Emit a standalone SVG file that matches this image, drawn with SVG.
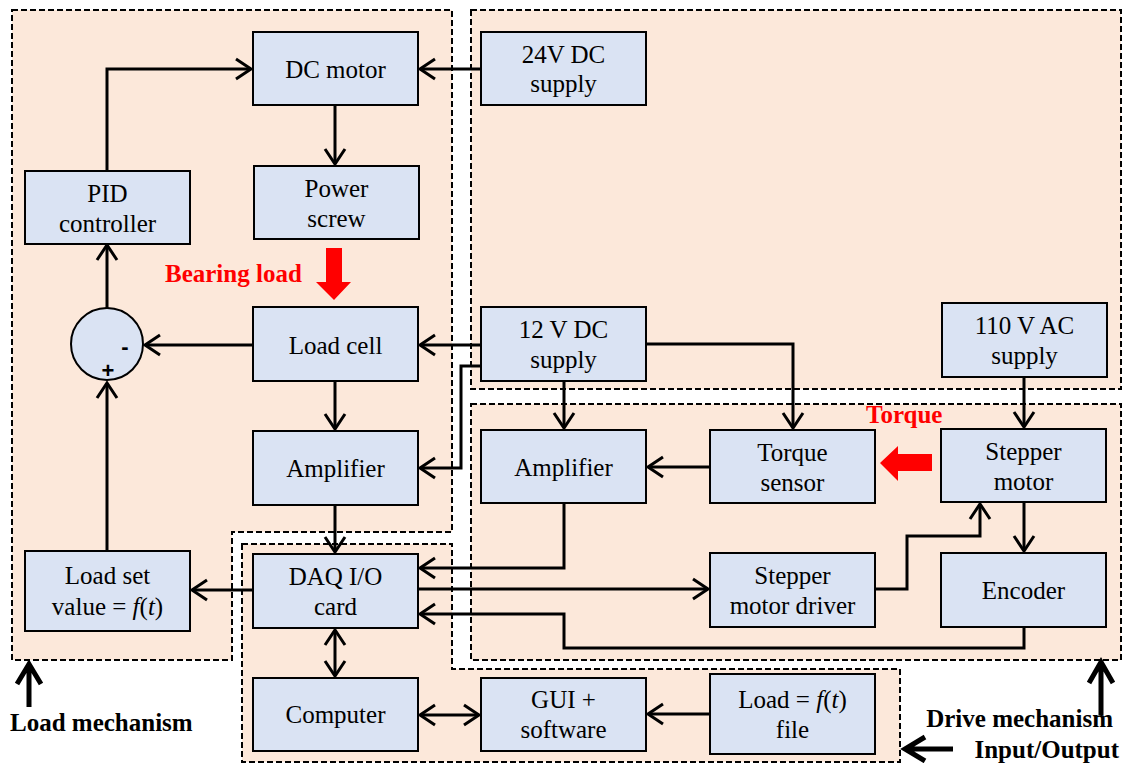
<svg xmlns="http://www.w3.org/2000/svg" width="1123" height="763" viewBox="0 0 1123 763">
<style>
.reg{fill:#FCE8DA;stroke:#000;stroke-width:2;stroke-dasharray:6,3}
.box{fill:#DAE3F3;stroke:#000;stroke-width:2}
.t{font-family:"Liberation Serif","Times New Roman",serif;font-size:25px;text-anchor:middle;fill:#000}
.lbl{font-family:"Liberation Serif","Times New Roman",serif;font-size:25px;font-weight:bold;fill:#000}
.red{fill:#FF0000}
.c{fill:none;stroke:#000;stroke-width:3}
.big{fill:none;stroke:#000;stroke-width:5}
.it{font-style:italic}
</style>
<defs>
<marker id="a" viewBox="-20 -14 24 28" refX="0" refY="0" markerWidth="24" markerHeight="28" markerUnits="userSpaceOnUse" orient="auto-start-reverse">
<path d="M-15,-10 L0,0 L-15,10" fill="none" stroke="#000" stroke-width="3"/>
</marker>
</defs>
<rect width="1123" height="763" fill="#fff"/>
<g id="regions">
<path id="load-mechanism" class="reg" d="M12,10 H452 V532 H232 V660 H12 Z"/>
<rect id="power-region" class="reg" x="471" y="10" width="650" height="379"/>
<rect id="drive-mechanism" class="reg" x="471" y="404" width="650" height="256"/>
<path id="input-output" class="reg" d="M242,544 H452 V669 H900 V762 H242 Z"/>
</g>
<g id="connectors">
<path class="c" d="M107,171 V69 H251" marker-end="url(#a)"/>
<path class="c" d="M481,69 H420" marker-end="url(#a)"/>
<path class="c" d="M335,105 V164" marker-end="url(#a)"/>
<path class="c" d="M253,345 H145" marker-end="url(#a)"/>
<path class="c" d="M481,345 H420" marker-end="url(#a)"/>
<path class="c" d="M481,366 H461 V468 H420" marker-end="url(#a)"/>
<path class="c" d="M646,344 H793 V428" marker-end="url(#a)"/>
<path class="c" d="M564,381 V428" marker-end="url(#a)"/>
<path class="c" d="M1024,377 V427" marker-end="url(#a)"/>
<path class="c" d="M710,467 H648" marker-end="url(#a)"/>
<path class="c" d="M1024,502 V551" marker-end="url(#a)"/>
<path class="c" d="M875,589 H907 V536 H980 V504" marker-end="url(#a)"/>
<path class="c" d="M564,503 V568 H420" marker-end="url(#a)"/>
<path class="c" d="M418,589 H708" marker-end="url(#a)"/>
<path class="c" d="M1024,627 V648 H564 V614 H420" marker-end="url(#a)"/>
<path class="c" d="M335,381 V429" marker-end="url(#a)"/>
<path class="c" d="M335,505 V552" marker-end="url(#a)"/>
<path class="c" d="M107,308 V245" marker-end="url(#a)"/>
<path class="c" d="M107,551 V383" marker-end="url(#a)"/>
<path class="c" d="M253,590 H192" marker-end="url(#a)"/>
<path class="c" d="M335,630 V676" marker-start="url(#a)" marker-end="url(#a)"/>
<path class="c" d="M420,715 H479" marker-start="url(#a)" marker-end="url(#a)"/>
<path class="c" d="M710,714 H648" marker-end="url(#a)"/>
<polygon class="red" points="326,248 342,248 342,282 351,282 334,300 316,282 326,282"/>
<polygon class="red" points="932,454 898,454 898,446 880,463 898,481 898,471 932,471"/>
<path class="big" d="M29,707 V666 M17,684 L29,664 L41,684"/>
<path class="big" d="M1101,715 V664 M1089,683 L1101,662 L1113,683"/>
<path class="big" d="M953,749 H908 M925,737 L905,749 L925,761"/>
</g>
<g id="dc-motor"><rect class="box" x="253" y="32" width="165" height="73"/><text class="t" x="335.5" y="78">DC motor</text></g>
<g id="power-screw"><rect class="box" x="254" y="166" width="165" height="73"/><text class="t" x="336.5" y="197">Power</text><text class="t" x="336.5" y="227">screw</text></g>
<g id="pid-controller"><rect class="box" x="25" y="171" width="165" height="73"/><text class="t" x="107.5" y="202">PID</text><text class="t" x="107.5" y="232">controller</text></g>
<g id="supply-24v"><rect class="box" x="481" y="32" width="165" height="73"/><text class="t" x="563.5" y="63">24V DC</text><text class="t" x="563.5" y="92">supply</text></g>
<g id="supply-12v"><rect class="box" x="481" y="307" width="165" height="74"/><text class="t" x="563.5" y="338">12 V DC</text><text class="t" x="563.5" y="368">supply</text></g>
<g id="supply-110v"><rect class="box" x="942" y="303" width="165" height="74"/><text class="t" x="1024.5" y="334">110 V AC</text><text class="t" x="1024.5" y="364">supply</text></g>
<g id="summing-junction"><circle cx="107" cy="344" r="36" fill="#DAE3F3" stroke="#000" stroke-width="2"/><text x="125" y="354" font-family="Liberation Sans,Arial,sans-serif" font-size="22" font-weight="bold" text-anchor="middle">-</text><text x="108" y="378" font-family="Liberation Sans,Arial,sans-serif" font-size="22" font-weight="bold" text-anchor="middle">+</text></g>
<g id="load-cell"><rect class="box" x="253" y="307" width="165" height="74"/><text class="t" x="335.5" y="354">Load cell</text></g>
<g id="amplifier-left"><rect class="box" x="253" y="431" width="165" height="74"/><text class="t" x="335.5" y="477">Amplifier</text></g>
<g id="amplifier-right"><rect class="box" x="481" y="430" width="165" height="73"/><text class="t" x="563.5" y="476">Amplifier</text></g>
<g id="torque-sensor"><rect class="box" x="710" y="430" width="165" height="73"/><text class="t" x="792.5" y="461">Torque</text><text class="t" x="792.5" y="491">sensor</text></g>
<g id="stepper-motor"><rect class="box" x="941" y="429" width="165" height="73"/><text class="t" x="1023.5" y="460">Stepper</text><text class="t" x="1023.5" y="490">motor</text></g>
<g id="stepper-driver"><rect class="box" x="710" y="553" width="165" height="74"/><text class="t" x="792.5" y="584">Stepper</text><text class="t" x="792.5" y="614">motor driver</text></g>
<g id="encoder"><rect class="box" x="941" y="553" width="165" height="74"/><text class="t" x="1023.5" y="599">Encoder</text></g>
<g id="load-set-value"><rect class="box" x="25" y="551" width="165" height="80"/><text class="t" x="107.5" y="584">Load set</text><text class="t" x="107.5" y="615">value = <tspan class="it">f</tspan>(<tspan class="it">t</tspan>)</text></g>
<g id="daq-card"><rect class="box" x="253" y="554" width="165" height="74"/><text class="t" x="335.5" y="585">DAQ I/O</text><text class="t" x="335.5" y="615">card</text></g>
<g id="computer"><rect class="box" x="253" y="678" width="165" height="73"/><text class="t" x="335.5" y="723">Computer</text></g>
<g id="gui-software"><rect class="box" x="481" y="678" width="165" height="73"/><text class="t" x="563.5" y="708">GUI +</text><text class="t" x="563.5" y="738">software</text></g>
<g id="load-file"><rect class="box" x="710" y="674" width="165" height="80"/><text class="t" x="792.5" y="708">Load = <tspan class="it">f</tspan>(<tspan class="it">t</tspan>)</text><text class="t" x="792.5" y="738">file</text></g>
<g id="labels">
<text class="lbl red" x="165" y="282">Bearing load</text>
<text class="lbl red" x="866" y="423">Torque</text>
<text class="lbl" x="10" y="731">Load mechanism</text>
<text class="lbl" x="1113" y="727" text-anchor="end">Drive mechanism</text>
<text class="lbl" x="1119" y="758" text-anchor="end" font-size="24">Input/Output</text>
</g>
</svg>
